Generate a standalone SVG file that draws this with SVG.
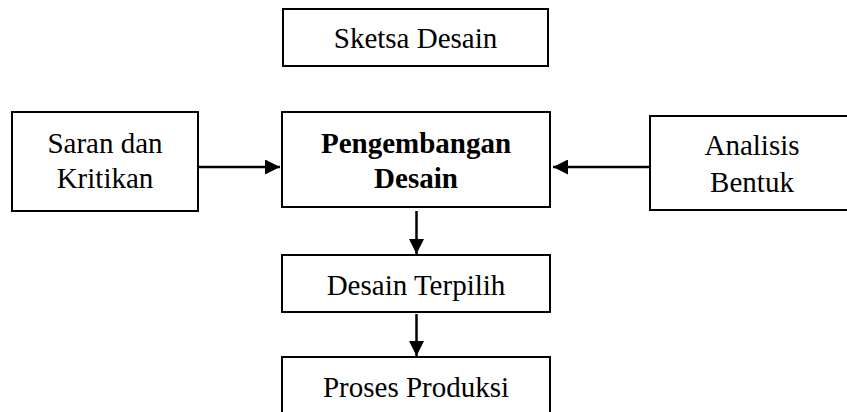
<svg xmlns="http://www.w3.org/2000/svg" width="847" height="412" viewBox="0 0 847 412">
<style>
.box{fill:#fff;stroke:#000;stroke-width:2}
.t{font-family:"Liberation Serif","Times New Roman",serif;font-size:29px;fill:#000;text-anchor:middle}
.b{font-weight:bold}
.c{stroke:#000;stroke-width:2.5;fill:none}
</style>
<defs>
<marker id="ah" viewBox="0 0 10 10" refX="10" refY="5" markerWidth="7" markerHeight="6" markerUnits="strokeWidth" orient="auto">
<path d="M0,0 L10,5 L0,10 Z" fill="#000"/>
</marker>
</defs>
<rect width="847" height="412" fill="#fff"/>
<g id="connectors">
<line class="c" x1="198" y1="167" x2="280" y2="167" marker-end="url(#ah)"/>
<line class="c" x1="650" y1="167" x2="553" y2="167" marker-end="url(#ah)"/>
<line class="c" x1="416.5" y1="211" x2="416.5" y2="254" marker-end="url(#ah)"/>
<line class="c" x1="416.5" y1="314" x2="416.5" y2="356" marker-end="url(#ah)"/>
</g>
<g id="sketsa">
<rect class="box" x="283" y="9" width="265" height="57"/>
<text class="t" x="415.5" y="48">Sketsa Desain</text>
</g>
<g id="saran">
<rect class="box" x="12" y="112" width="186" height="99"/>
<text class="t" x="105" y="153">Saran dan</text>
<text class="t" x="105" y="188">Kritikan</text>
</g>
<g id="pengembangan">
<rect class="box" x="282" y="112" width="268" height="95"/>
<text class="t b" x="416" y="153">Pengembangan</text>
<text class="t b" x="416" y="188">Desain</text>
</g>
<g id="analisis">
<rect class="box" x="650" y="116" width="206" height="94"/>
<text class="t" x="752" y="155">Analisis</text>
<text class="t" x="752" y="192">Bentuk</text>
</g>
<g id="terpilih">
<rect class="box" x="282" y="255" width="268" height="57"/>
<text class="t" x="416" y="295">Desain Terpilih</text>
</g>
<g id="produksi">
<rect class="box" x="282" y="357" width="268" height="70"/>
<text class="t" x="416" y="397">Proses Produksi</text>
</g>
</svg>
